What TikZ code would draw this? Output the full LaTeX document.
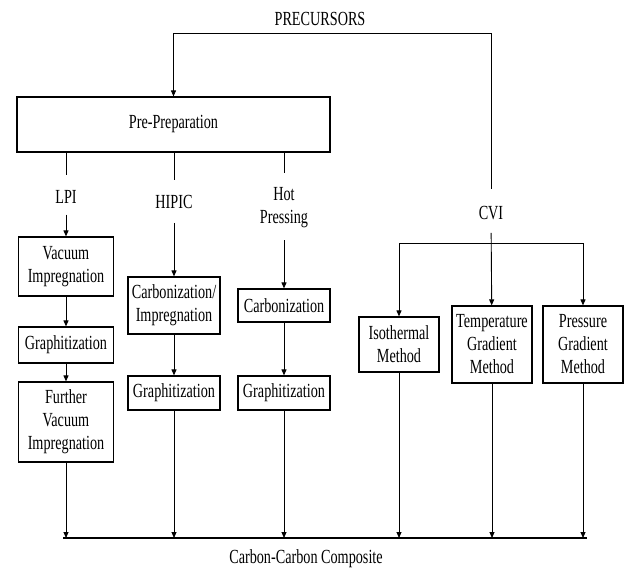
\documentclass[tikz,border=0pt]{standalone}
\usepackage{fontspec}
\setmainfont{Liberation Serif}[FakeStretch=0.71]
\usetikzlibrary{arrows.meta}
\begin{document}
\begin{tikzpicture}[x=1pt,y=-1pt,
  every node/.style={font=\fontsize{20}{23}\selectfont},
  box/.style={draw, line width=1.2pt, align=center, inner sep=0pt},
  lbl/.style={align=center, inner sep=0pt},
  conn/.style={line width=0.9pt},
  arr/.style={conn, -{Triangle[length=6pt,width=5pt]}},
]
\useasboundingbox (0,0) rectangle (630,570);
% labels
\node[lbl] (prec) at (320,19) {PRECURSORS};
\node[box, minimum width=313pt, minimum height=55pt] (prep) at (173.5,124.5) {Pre-Preparation};
\node[lbl] (lpi) at (66,197) {LPI};
\node[lbl] (hipic) at (174,202) {HIPIC};
\node[lbl] (hot) at (284,208) {Hot\\Pressing};
\node[lbl] (cvi) at (491,213) {CVI};
% LPI column
\node[box, minimum width=95pt, minimum height=59pt] (vac) at (66,266.5) {Vacuum\\Impregnation};
\node[box, minimum width=95pt, minimum height=36pt] (gr1) at (66,345) {Graphitization};
\node[box, minimum width=95pt, minimum height=80pt] (fvi) at (66,422) {Further\\Vacuum\\Impregnation};
% HIPIC column
\node[box, minimum width=92pt, minimum height=57pt] (ci) at (174,305.5) {Carbonization/\\Impregnation};
\node[box, minimum width=92pt, minimum height=34pt] (gr2) at (174,393) {Graphitization};
% Hot pressing column
\node[box, minimum width=92pt, minimum height=33pt] (carb) at (284,305.5) {Carbonization};
\node[box, minimum width=92pt, minimum height=34pt] (gr3) at (284,393) {Graphitization};
% CVI column
\node[box, minimum width=80pt, minimum height=55pt] (iso) at (399,344.5) {Isothermal\\Method};
\node[box, minimum width=80pt, minimum height=77pt] (tgm) at (492,344.5) {Temperature\\Gradient\\Method};
\node[box, minimum width=80pt, minimum height=77pt] (pgm) at (583,344.5) {Pressure\\Gradient\\Method};
\node[lbl] (ccc) at (306,559) {Carbon-Carbon Composite};
% coordinates
\coordinate (pr) at (491,33);
\coordinate (bj) at (491,243);
\coordinate (bl) at (63,538);
\coordinate (brr) at (587,538);
% connectors
\draw[arr] (pr) -| (prep);
\draw[conn, shorten >=17pt] (pr) -- (cvi);
\draw[conn, shorten >=15pt] (prep.south -| lpi) -- (lpi);
\draw[conn, shorten >=15pt] (prep.south -| hipic) -- (hipic);
\draw[conn, shorten >=15pt] (prep.south -| hot) -- (hot);
\draw[arr, shorten <=11pt] (lpi) -- (vac);
\draw[arr, shorten <=14pt] (hipic) -- (ci);
\draw[arr, shorten <=12pt] (hot) -- (carb);
\draw[arr] (vac) -- (gr1);
\draw[arr] (gr1) -- (fvi);
\draw[arr] (ci) -- (gr2);
\draw[arr] (carb) -- (gr3);
\draw[arr, shorten <=13pt] (cvi) -- (tgm);
\draw[arr] (bj) -| (iso);
\draw[arr] (bj) -| (pgm);
\draw[arr] (fvi) -- (fvi |- bl);
\draw[arr] (gr2) -- (gr2 |- bl);
\draw[arr] (gr3) -- (gr3 |- bl);
\draw[arr] (iso) -- (iso |- bl);
\draw[arr] (tgm) -- (tgm |- bl);
\draw[arr] (pgm) -- (pgm |- bl);
\draw[line width=1.4pt] (bl) -- (brr);
\end{tikzpicture}
\end{document}
